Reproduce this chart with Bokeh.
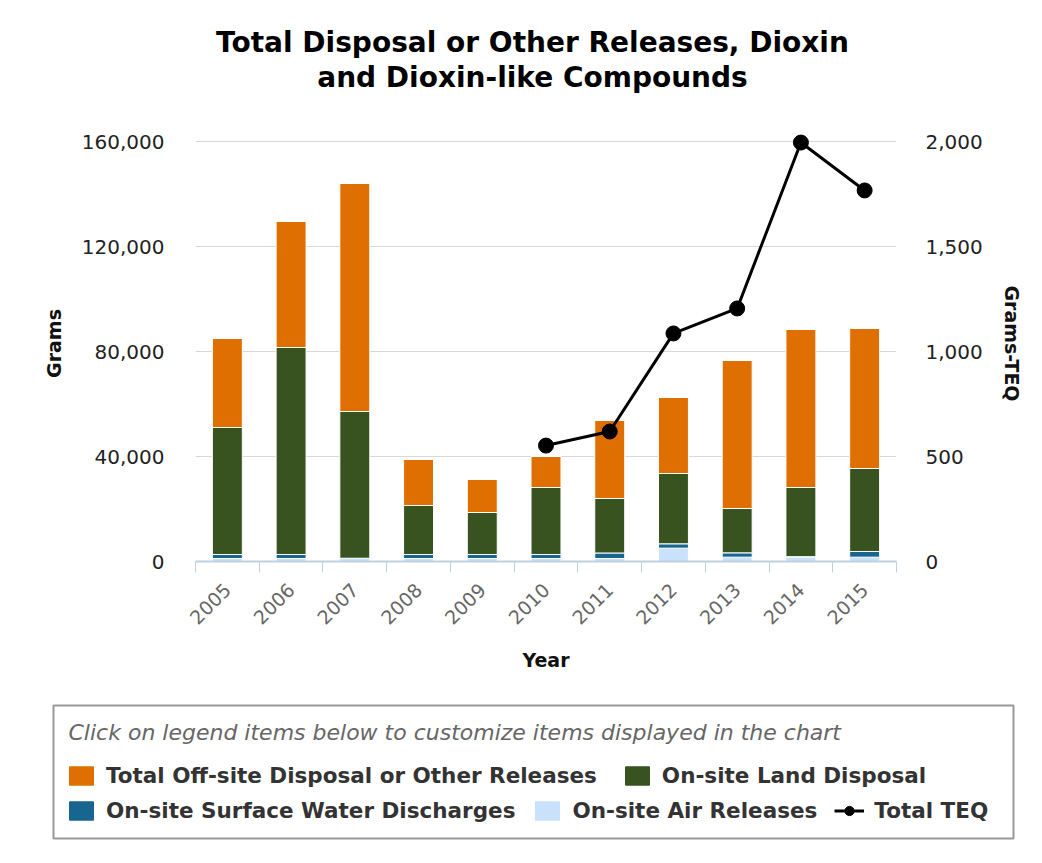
import math
from bokeh.plotting import figure
from bokeh.models import (Range1d, LinearAxis, FixedTicker, Legend, LegendItem,
                          Label, ColumnDataSource, NumeralTickFormatter)
from bokeh.embed import file_html
from bokeh.resources import INLINE

# ---------------- data ----------------
years = ["2005", "2006", "2007", "2008", "2009", "2010", "2011", "2012", "2013", "2014", "2015"]
offsite = [33900, 48000, 86860, 17530, 12570, 11810, 29710, 28960, 56380, 60190, 53330]
land = [48380, 78850, 55900, 18660, 16000, 25520, 20760, 26780, 16890, 26340, 31620]
water = [1530, 1530, 100, 1530, 1530, 1530, 2100, 1660, 1650, 200, 2160]
air = [1140, 1140, 1140, 1140, 1140, 1140, 1140, 5080, 1650, 1650, 1650]
teq_years = ["2010", "2011", "2012", "2013", "2014", "2015"]
teq = [552, 619, 1086, 1205, 1995, 1767]

left_ticks = [0, 40000, 80000, 120000, 160000]
right_ticks = [0, 500, 1000, 1500, 2000]

title_lines = ["Total Disposal or Other Releases, Dioxin", "and Dioxin-like Compounds"]
series_names = ["Total Off-site Disposal or Other Releases", "On-site Land Disposal",
                "On-site Surface Water Discharges", "On-site Air Releases", "Total TEQ"]
caption = "Click on legend items below to customize items displayed in the chart"

C_OFF = "#DF6F00"
C_LAND = "#38531F"
C_WATER = "#18658F"
C_AIR = "#C9E1FA"

FONT = "DejaVu Sans"
W = 1040

# ---------------- title strip ----------------
TH = 100
tf = figure(width=W, height=TH, output_backend="svg", toolbar_location=None,
            x_range=Range1d(0, W), y_range=Range1d(0, TH),
            x_axis_type=None, y_axis_type=None, min_border=0)
tf.title = None
tf.grid.visible = False
tf.outline_line_color = None
for txt, yy in zip(title_lines, [TH - 42, TH - 77]):
    tf.add_layout(Label(x=532, y=yy, text=txt, text_align="center", text_baseline="middle",
                        text_font=FONT, text_font_size="28px", text_font_style="bold",
                        text_color="#000000"))

# ---------------- main chart ----------------
PLOT_H = 420          # pixels between 0 and 160,000
HEADROOM = 16         # room above the top gridline so markers are not cut
y_top = left_ticks[-1] * (PLOT_H + HEADROOM) / PLOT_H
r_top = right_ticks[-1] * (PLOT_H + HEADROOM) / PLOT_H
MB_TOP, MB_BOT = 141 - TH - HEADROOM, 129
p = figure(width=W, height=MB_TOP + PLOT_H + HEADROOM + MB_BOT,
           output_backend="svg", toolbar_location=None,
           x_range=Range1d(0, len(years)), y_range=Range1d(0, y_top),
           min_border_left=195, min_border_right=W - 896, min_border_top=MB_TOP,
           min_border_bottom=MB_BOT)
p.title = None
p.outline_line_color = None
p.background_fill_color = "white"
p.border_fill_color = "white"

xs = [i + 0.5 for i in range(len(years))]
src = ColumnDataSource(dict(x=xs, air=air, water=water, land=land, offsite=offsite))
bars = p.vbar_stack(["air", "water", "land", "offsite"], x="x", width=0.47,
                    color=[C_AIR, C_WATER, C_LAND, C_OFF], line_color="white",
                    line_width=1, source=src)

p.extra_y_ranges = {"teq": Range1d(0, r_top)}
tx = [years.index(y) + 0.5 for y in teq_years]
tsrc = ColumnDataSource(dict(x=tx, y=teq))
ln = p.line("x", "y", source=tsrc, y_range_name="teq", line_color="black", line_width=3)
pts = p.scatter("x", "y", source=tsrc, y_range_name="teq", size=15, color="black")

# x axis
xax = p.xaxis[0]
xax.ticker = FixedTicker(ticks=xs, minor_ticks=list(range(len(years) + 1)))
xax.major_label_overrides = {x: y for x, y in zip(xs, years)}
xax.major_label_orientation = math.pi / 4
xax.major_tick_line_color = None
xax.minor_tick_in = 0
xax.minor_tick_out = 11
xax.minor_tick_line_color = "#C0D0E0"
xax.minor_tick_line_width = 1
xax.axis_line_color = "#C0D0E0"
xax.axis_line_width = 2
xax.major_label_text_font = FONT
xax.major_label_text_font_size = "19px"
xax.major_label_text_color = "#666666"
xax.major_label_standoff = 14
xax.axis_label = "Year"
xax.axis_label_text_font = FONT
xax.axis_label_text_font_size = "19px"
xax.axis_label_text_font_style = "bold"
xax.axis_label_text_color = "#111111"
xax.axis_label_standoff = 15

# left y axis
yax = p.yaxis[0]
yax.ticker = FixedTicker(ticks=left_ticks)
yax.formatter = NumeralTickFormatter(format="0,0")
yax.axis_line_color = None
yax.major_tick_line_color = None
yax.minor_tick_line_color = None
yax.major_label_text_font = FONT
yax.major_label_text_font_size = "20px"
yax.major_label_text_color = "#222222"
yax.major_label_standoff = 25
yax.axis_label = "Grams"
yax.axis_label_text_font = FONT
yax.axis_label_text_font_size = "19px"
yax.axis_label_text_font_style = "bold"
yax.axis_label_text_color = "#111111"
yax.axis_label_standoff = 14

rax = LinearAxis(y_range_name="teq", ticker=FixedTicker(ticks=right_ticks),
                 formatter=NumeralTickFormatter(format="0,0"))
rax.axis_line_color = None
rax.major_tick_line_color = None
rax.minor_tick_line_color = None
rax.major_label_text_font = FONT
rax.major_label_text_font_size = "20px"
rax.major_label_text_color = "#222222"
rax.major_label_standoff = 23
rax.axis_label = "Grams-TEQ"
rax.axis_label_text_font = FONT
rax.axis_label_text_font_size = "19px"
rax.axis_label_text_font_style = "bold"
rax.axis_label_text_color = "#111111"
rax.axis_label_standoff = 15
p.add_layout(rax, "right")

p.xgrid.grid_line_color = None
p.ygrid.ticker = FixedTicker(ticks=left_ticks)
p.ygrid.grid_line_color = "#D8D8D8"
p.ygrid.grid_line_width = 1

# ---------------- legend panel (its frame is the legend box) ----------------
BOX_W, BOX_H = 960, 133
LH = 170
lf = figure(width=W, height=LH, output_backend="svg", toolbar_location=None,
            x_range=Range1d(0, BOX_W), y_range=Range1d(0, BOX_H),
            x_axis_type=None, y_axis_type=None,
            min_border_left=53, min_border_right=W - 53 - BOX_W,
            min_border_top=15, min_border_bottom=LH - 15 - BOX_H)
lf.title = None
lf.grid.visible = False
lf.outline_line_color = "#999999"
lf.outline_line_width = 2
lf.background_fill_color = "white"
lf.border_fill_color = "white"

lf.add_layout(Label(x=15, y=106, text=caption,
                    text_align="left", text_baseline="middle",
                    text_font=FONT, text_font_size="22px", text_font_style="italic",
                    text_color="#666666"))

# proxy renderers (no drawable points) linked to the chart's renderers
nan = float("nan")
proxy_src = ColumnDataSource(dict(x=[nan], top=[nan], y=[nan]))
proxies = []
for c, real in zip([C_OFF, C_LAND, C_WATER, C_AIR], [bars[3], bars[2], bars[1], bars[0]]):
    r = lf.vbar(x="x", top="top", width=1, color=c, line_color=c, source=proxy_src)
    r.js_link("visible", real, "visible")
    proxies.append([r])
pl = lf.line("x", "y", source=proxy_src, line_color="black", line_width=3)
ps = lf.scatter("x", "y", source=proxy_src, size=15, color="black")
pl.js_link("visible", ln, "visible")
ps.js_link("visible", pts, "visible")
proxies.append([pl, ps])


def mk_legend(idx, loc, spacing):
    lg = Legend(items=[LegendItem(label=series_names[i], renderers=proxies[i]) for i in idx],
                orientation="horizontal", location=loc,
                glyph_width=30, glyph_height=23, label_standoff=10, spacing=spacing,
                padding=0, margin=0, border_line_color=None, background_fill_alpha=0,
                label_text_font=FONT, label_text_font_size="21.5px",
                label_text_font_style="bold", label_text_color="#333333",
                click_policy="hide")
    lf.add_layout(lg)
    return lg


mk_legend([0, 1], (13, 50), 25)
mk_legend([2, 3, 4], (13, 15), 17)

open("out.html", "w").write(file_html([tf, p, lf], INLINE))
